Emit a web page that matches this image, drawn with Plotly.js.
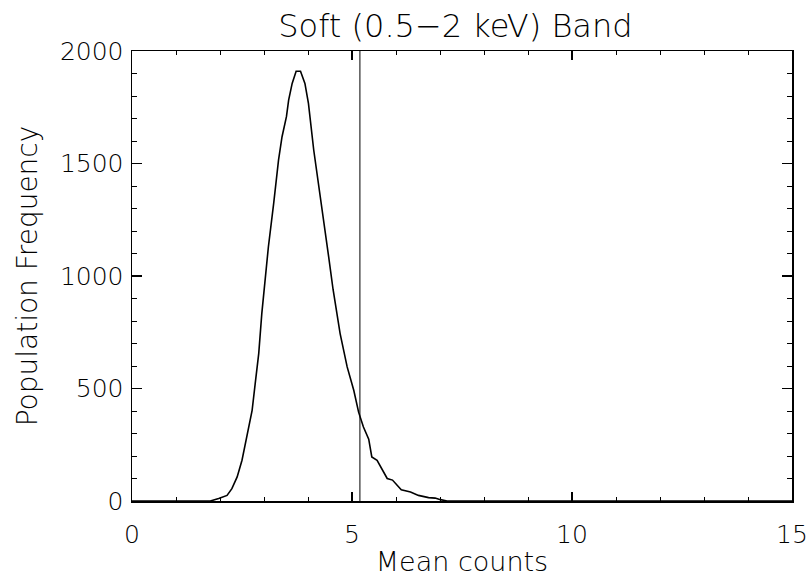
<!DOCTYPE html>
<html>
<head>
<meta charset="utf-8">
<script src="https://cdn.plot.ly/plotly-3.0.1.min.js"></script>
<style>html,body{margin:0;padding:0;background:#fff;}#chart{width:812px;height:577px;}</style>
</head>
<body>
<div id="chart"></div>
<script>
// Mean counts (x) and population frequency (y)
var meanCounts = [0, 1.0, 1.78, 1.97, 2.16, 2.27, 2.39, 2.50, 2.61, 2.73, 2.80, 2.88, 2.95, 3.02, 3.10, 3.22, 3.33, 3.41, 3.51, 3.56, 3.64, 3.73, 3.83, 3.93, 4.01, 4.13, 4.24, 4.35, 4.47, 4.57, 4.73, 4.89, 5.04, 5.15, 5.26, 5.38, 5.45, 5.57, 5.80, 5.92, 6.12, 6.33, 6.51, 6.74, 6.89, 7.01, 7.16, 8, 10, 15];
var frequency = [0, 0, 0, 11, 25, 55, 107, 181, 285, 403, 522, 655, 833, 975, 1130, 1323, 1515, 1619, 1708, 1782, 1856, 1910, 1910, 1856, 1767, 1560, 1412, 1263, 1085, 940, 744, 596, 492, 395, 329, 275, 196, 181, 100, 93, 50, 40, 25, 15, 13, 6, 0, 0, 0, 0];
var thresholdX = [5.18, 5.18];
var thresholdY = [0, 2000];
var xTickVals = [0, 5, 10, 15];
var yTickVals = [0, 500, 1000, 1500, 2000];
var xMinorStep = 1;
var yMinorStep = 100;

var fontFam = "'DejaVu Sans', sans-serif";

var traces = [
  {x: meanCounts, y: frequency, type: 'scatter', mode: 'lines',
   line: {color: '#000', width: 1.6}, hoverinfo: 'skip'},
  {x: thresholdX, y: thresholdY, type: 'scatter', mode: 'lines', xaxis: 'x2', yaxis: 'y2',
   line: {color: '#000', width: 1}, hoverinfo: 'skip'}
];

var layout = {
  width: 812, height: 577,
  margin: {l: 132, r: 20, t: 51, b: 76},
  paper_bgcolor: '#fff', plot_bgcolor: '#fff',
  showlegend: false,
  font: {family: fontFam, color: '#000', weight: 200},
  title: {text: 'Soft (0.5\u22122 keV) Band', font: {size: 32, family: fontFam, weight: 200},
          xref: 'paper', x: 0.49, xanchor: 'center', yref: 'container', y: 0.955, yanchor: 'middle'},
  xaxis: {
    range: [0, 15], tickmode: 'array', tickvals: xTickVals, ticktext: xTickVals.map(String),
    ticks: 'inside', ticklen: 9, tickwidth: 1.2, tickcolor: '#000',
    showline: true, linecolor: '#000', linewidth: 1.5, mirror: 'ticks',
    showgrid: false, zeroline: false, ticklabelstandoff: 10,
    tickfont: {size: 25, family: fontFam, weight: 200},
    title: {text: 'Mean counts', font: {size: 27, family: fontFam, weight: 200}, standoff: 8}
  },
  yaxis: {
    range: [0, 2000], tickmode: 'array', tickvals: yTickVals, ticktext: yTickVals.map(String),
    ticks: 'inside', ticklen: 10, tickwidth: 1.2, tickcolor: '#000',
    showline: true, linecolor: '#000', linewidth: 1.5, mirror: 'ticks',
    showgrid: false, zeroline: false, ticklabelstandoff: 2,
    tickfont: {size: 25, family: fontFam, weight: 200},
    title: {text: 'Population Frequency', font: {size: 28, family: fontFam, weight: 200}, standoff: 14}
  },
  xaxis2: {
    overlaying: 'x', range: [0, 15], tickmode: 'linear', tick0: 0, dtick: xMinorStep,
    ticks: 'inside', ticklen: 4, tickwidth: 1, tickcolor: '#000', mirror: 'ticks',
    showline: false, showgrid: false, zeroline: false, showticklabels: false
  },
  yaxis2: {
    overlaying: 'y', range: [0, 2000], tickmode: 'linear', tick0: 0, dtick: yMinorStep,
    ticks: 'inside', ticklen: 5, tickwidth: 1, tickcolor: '#000', mirror: 'ticks',
    showline: false, showgrid: false, zeroline: false, showticklabels: false
  }
};

Plotly.newPlot('chart', traces, layout, {staticPlot: true, displayModeBar: false});
</script>
</body>
</html>
